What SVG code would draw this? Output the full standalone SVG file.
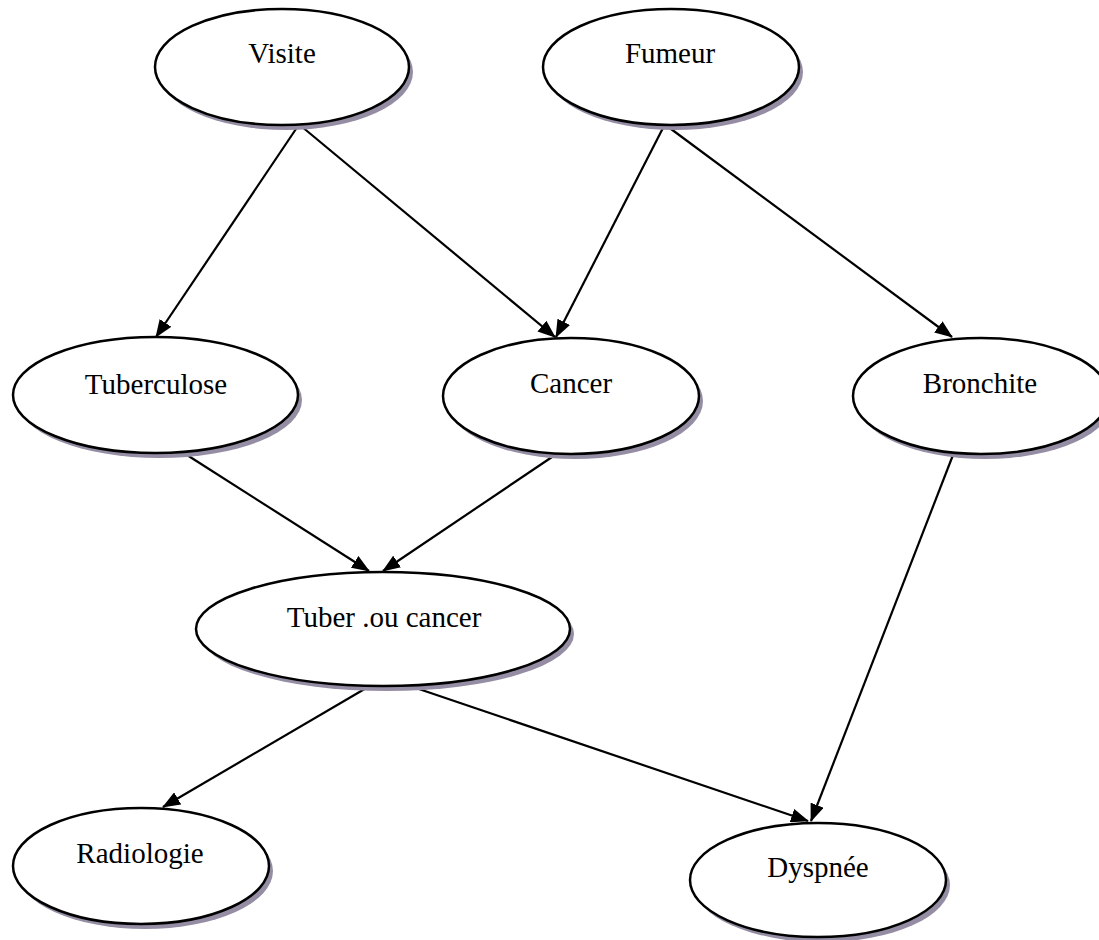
<svg xmlns="http://www.w3.org/2000/svg" width="1099" height="940" viewBox="0 0 1099 940">
  <style>
    .node-shape { fill: #ffffff; stroke: #000000; stroke-width: 2.5; }
    .node-shadow { fill: #958da3; filter: url(#soft); }
    .label { font-family: "Liberation Serif", "Times New Roman", serif; font-size: 29px; fill: #000000; text-anchor: middle; }
    .edge { stroke: #000000; stroke-width: 2.2; fill: none; marker-end: url(#arrow); }
  </style>
  <defs>
    <filter id="soft" x="-10%" y="-10%" width="120%" height="120%">
      <feGaussianBlur stdDeviation="0.6"/>
    </filter>
    <marker id="arrow" viewBox="0 0 18 14" refX="17" refY="7" markerWidth="18" markerHeight="14" markerUnits="userSpaceOnUse" orient="auto">
      <path d="M0,0 L18,7 L0,14 Z" fill="#000000"/>
    </marker>
  </defs>
  <rect x="0" y="0" width="1099" height="940" fill="#ffffff"/>

  <g id="connectors">
    <line class="edge" x1="298" y1="126" x2="156" y2="337"/>
    <line class="edge" x1="301" y1="126" x2="555" y2="337"/>
    <line class="edge" x1="664" y1="126" x2="556" y2="337"/>
    <line class="edge" x1="667" y1="126" x2="952" y2="337"/>
    <line class="edge" x1="187" y1="455" x2="369" y2="571"/>
    <line class="edge" x1="555" y1="455" x2="383" y2="571"/>
    <line class="edge" x1="953" y1="455" x2="811" y2="821"/>
    <line class="edge" x1="368" y1="687" x2="163" y2="807"/>
    <line class="edge" x1="413" y1="687" x2="808" y2="821"/>
  </g>

  <g id="visite">
    <ellipse class="node-shadow" cx="286" cy="72" rx="127" ry="58"/>
    <ellipse class="node-shape" cx="282" cy="67" rx="127" ry="58"/>
    <text class="label" x="282" y="63">Visite</text>
  </g>
  <g id="fumeur">
    <ellipse class="node-shadow" cx="675" cy="72" rx="128" ry="58"/>
    <ellipse class="node-shape" cx="671" cy="67" rx="128" ry="58"/>
    <text class="label" x="670" y="63">Fumeur</text>
  </g>
  <g id="tuberculose">
    <ellipse class="node-shadow" cx="159.5" cy="400" rx="142.5" ry="58"/>
    <ellipse class="node-shape" cx="155.5" cy="395" rx="142.5" ry="58"/>
    <text class="label" x="156" y="394">Tuberculose</text>
  </g>
  <g id="cancer">
    <ellipse class="node-shadow" cx="575" cy="401" rx="128" ry="58"/>
    <ellipse class="node-shape" cx="571" cy="396" rx="128" ry="58"/>
    <text class="label" x="571" y="393">Cancer</text>
  </g>
  <g id="bronchite">
    <ellipse class="node-shadow" cx="985" cy="401" rx="128" ry="58"/>
    <ellipse class="node-shape" cx="981" cy="396" rx="128" ry="58"/>
    <text class="label" x="980" y="393">Bronchite</text>
  </g>
  <g id="tuber-ou-cancer">
    <ellipse class="node-shadow" cx="387" cy="634" rx="187" ry="57"/>
    <ellipse class="node-shape" cx="383" cy="629" rx="187" ry="57"/>
    <text class="label" x="384" y="627">Tuber .ou cancer</text>
  </g>
  <g id="radiologie">
    <ellipse class="node-shadow" cx="145" cy="871" rx="128" ry="58"/>
    <ellipse class="node-shape" cx="141" cy="866" rx="128" ry="58"/>
    <text class="label" x="140" y="863">Radiologie</text>
  </g>
  <g id="dyspnee">
    <ellipse class="node-shadow" cx="822" cy="885" rx="128" ry="57"/>
    <ellipse class="node-shape" cx="818" cy="880" rx="128" ry="57"/>
    <text class="label" x="818" y="877">Dyspnée</text>
  </g>
</svg>
